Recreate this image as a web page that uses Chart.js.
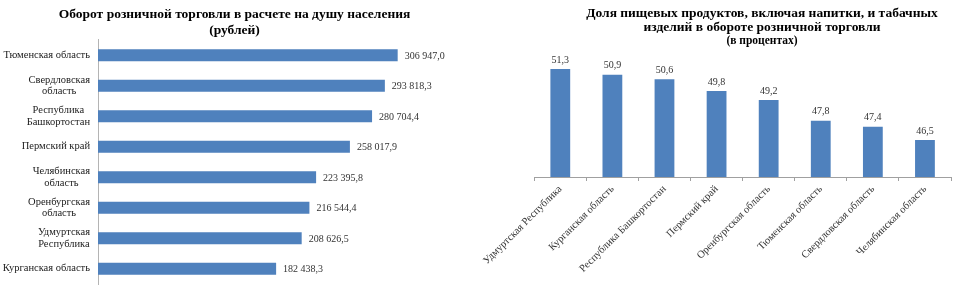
<!DOCTYPE html>
<html>
<head>
<meta charset="utf-8">
<script src="https://cdn.jsdelivr.net/npm/chart.js@4"></script>
<style>
  html, body { margin: 0; padding: 0; background: #fff; overflow: hidden; }
  .box { position: absolute; top: 0; height: 288px; }
</style>
</head>
<body>
<div class="box" style="left:0;width:470px"><canvas id="Chart-1"></canvas></div>
<div class="box" style="left:480px;width:564px"><canvas id="Chart-2"></canvas></div>
<script>
var regionLabels = [
  "Тюменская область",
  ["Свердловская", "область"],
  ["Республика", "Башкортостан"],
  "Пермский край",
  ["Челябинская", "область"],
  ["Оренбургская", "область"],
  ["Удмуртская", "Республика"],
  "Курганская область"
];
var turnoverValues = [306947.0, 293818.3, 280704.4, 258017.9, 223395.8, 216544.4, 208626.5, 182438.3];

var foodLabels = [
  "Удмуртская Республика",
  "Курганская область",
  "Республика Башкортостан",
  "Пермский край",
  "Оренбургская область",
  "Тюменская область",
  "Свердловская область",
  "Челябинская область"
];
var foodValues = [51.3, 50.9, 50.6, 49.8, 49.2, 47.8, 47.4, 46.5];

var barColor = "#4f81bd";
var serif = "'Liberation Serif', 'Times New Roman', serif";

function fmtRub(v) {
  var s = v.toFixed(1).split(".");
  return s[0].replace(/\B(?=(\d{3})+(?!\d))/g, " ") + "," + s[1];
}
function fmtPct(v) {
  return v.toFixed(1).replace(".", ",");
}

// numbers next to / above the bars
var valueLabels = {
  id: "valueLabels",
  afterDatasetsDraw: function(chart) {
    var ctx = chart.ctx;
    var meta = chart.getDatasetMeta(0);
    var data = chart.data.datasets[0].data;
    var horiz = chart.options.indexAxis === "y";
    ctx.save();
    ctx.fillStyle = "#333";
    ctx.font = "10px " + serif;
    meta.data.forEach(function(bar, i) {
      if (horiz) {
        ctx.textAlign = "left";
        ctx.textBaseline = "middle";
        ctx.fillText(fmtRub(data[i]), bar.x + 7, bar.y + 1);
      } else {
        ctx.textAlign = "center";
        ctx.textBaseline = "bottom";
        ctx.fillText(fmtPct(data[i]), bar.x, bar.y - 4);
      }
    });
    ctx.restore();
  }
};

// category labels: block right aligned, lines centred inside the block (like Excel)
var blockLabels = {
  id: "blockLabels",
  afterDraw: function(chart) {
    var ctx = chart.ctx;
    var scale = chart.scales.y;
    var lh = 11.3;
    ctx.save();
    ctx.fillStyle = "#222";
    ctx.font = "10.5px " + serif;
    ctx.textAlign = "center";
    ctx.textBaseline = "middle";
    chart.data.labels.forEach(function(lab, i) {
      var lines = [].concat(lab);
      var w = Math.max.apply(null, lines.map(function(l) { return ctx.measureText(l).width; }));
      var cx = scale.right - 8 - w / 2;
      var y0 = scale.getPixelForTick(i) - (lines.length - 1) * lh / 2;
      lines.forEach(function(l, j) { ctx.fillText(l, cx, y0 + j * lh); });
    });
    ctx.restore();
  }
};

function leftChart() {
  new Chart("Chart-1", {
    type: "bar",
    plugins: [valueLabels, blockLabels],
    data: {
      labels: regionLabels,
      datasets: [{
        data: turnoverValues,
        backgroundColor: barColor,
        barPercentage: 0.4,
        categoryPercentage: 1
      }]
    },
    options: {
      indexAxis: "y",
      responsive: true,
      maintainAspectRatio: false,
      animation: false,
      layout: {padding: {left: 0, right: 1, top: 0, bottom: 4}},
      plugins: {
        legend: {display: false},
        tooltip: {enabled: false},
        title: {
          display: true,
          text: ["Оборот розничной торговли в расчете на душу населения", "(рублей)"],
          color: "#000",
          font: {family: serif, size: 13.5, weight: "bold", lineHeight: 1.185},
          padding: {top: 7, bottom: 1}
        }
      },
      scales: {
        x: {display: false, min: 0, max: 380000},
        y: {
          afterFit: function(scale) { scale.width = 98; },
          grid: {display: false, drawTicks: false},
          border: {display: true, color: "#b4b4b4"},
          ticks: {display: false}
        }
      }
    }
  });
}

function hiddenAxis(w) {
  return {
    display: true,
    ticks: {display: false},
    grid: {display: false, drawTicks: false},
    border: {display: false},
    afterFit: function(scale) { scale.width = w; }
  };
}

function rightChart() {
  var yLeft = hiddenAxis(50);
  yLeft.min = 44;
  yLeft.max = 52;
  yLeft.position = "left";
  var yRight = hiddenAxis(93);
  yRight.type = "linear";
  yRight.position = "right";

  new Chart("Chart-2", {
    type: "bar",
    plugins: [valueLabels],
    data: {
      labels: foodLabels,
      datasets: [{
        data: foodValues,
        backgroundColor: barColor,
        barPercentage: 0.38,
        categoryPercentage: 1
      }]
    },
    options: {
      responsive: true,
      maintainAspectRatio: false,
      animation: false,
      layout: {padding: 0},
      plugins: {
        legend: {display: false},
        tooltip: {enabled: false},
        title: {
          display: true,
          text: ["Доля пищевых продуктов, включая напитки, и табачных", "изделий в обороте розничной торговли"],
          color: "#000",
          font: {family: serif, size: 13.5, weight: "bold", lineHeight: 1.05},
          padding: {top: 6, bottom: 0}
        },
        subtitle: {
          display: true,
          text: "(в процентах)",
          color: "#000",
          font: {family: serif, size: 11.5, weight: "bold", lineHeight: 1.2},
          padding: {top: 0, bottom: 10.4}
        }
      },
      scales: {
        y: yLeft,
        yr: yRight,
        x: {
          afterFit: function(scale) { scale.height = 111; },
          grid: {display: true, drawOnChartArea: false, offset: true, tickLength: 4, color: "#a0a0a0"},
          border: {display: true, color: "#a0a0a0"},
          ticks: {
            color: "#333",
            maxRotation: 45,
            minRotation: 45,
            padding: 2,
            font: {family: serif, size: 10.5}
          }
        }
      }
    }
  });
}

leftChart();
rightChart();
</script>
</body>
</html>
